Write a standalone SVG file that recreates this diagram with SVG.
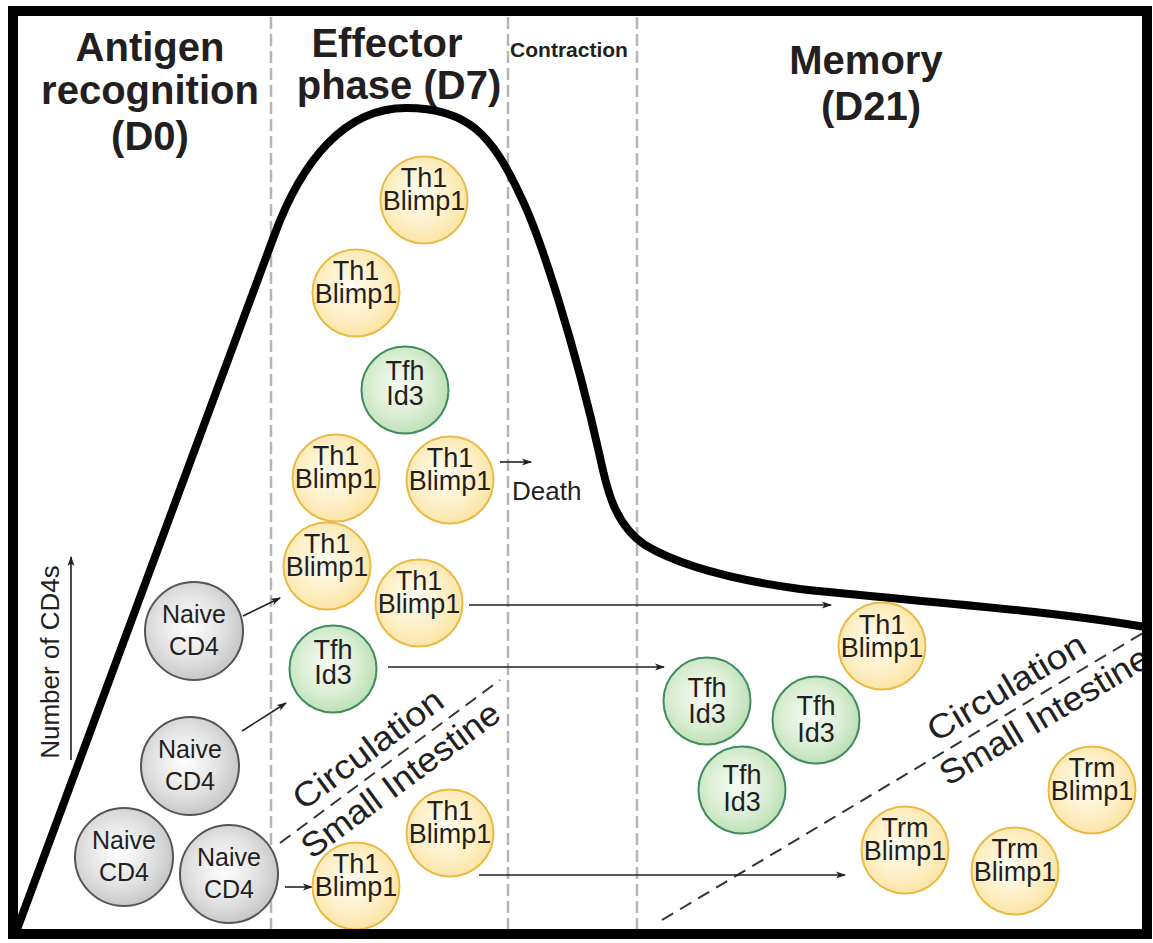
<svg xmlns="http://www.w3.org/2000/svg" width="1153" height="943" viewBox="0 0 1153 943">
<defs>
<radialGradient id="gy" cx="0.45" cy="0.45" r="0.6">
<stop offset="0" stop-color="#fffdf4"/><stop offset="0.55" stop-color="#fdf0c8"/><stop offset="1" stop-color="#fbe3a0"/>
</radialGradient>
<radialGradient id="gg" cx="0.45" cy="0.45" r="0.6">
<stop offset="0" stop-color="#f6fbf4"/><stop offset="0.55" stop-color="#dcefd6"/><stop offset="1" stop-color="#b9ddb1"/>
</radialGradient>
<radialGradient id="gn" cx="0.45" cy="0.45" r="0.6">
<stop offset="0" stop-color="#ffffff"/><stop offset="0.55" stop-color="#e3e3e3"/><stop offset="1" stop-color="#c2c2c2"/>
</radialGradient>
<marker id="ah" markerUnits="userSpaceOnUse" markerWidth="10" markerHeight="8" refX="9" refY="4" orient="auto">
<path d="M0,0.5 L10,4 L0,7.5 L2.5,4 z" fill="#231f20"/>
</marker>
<style>
text{font-family:"Liberation Sans",Arial,Helvetica,sans-serif;fill:#231f20}
.h{font-size:40px;font-weight:bold;text-anchor:middle}
.hs{font-size:21px;font-weight:bold;text-anchor:middle}
.c{font-size:27px;text-anchor:middle}
.nv{font-size:25px;text-anchor:middle}
.rot{font-size:34px;text-anchor:middle}
.y{fill:url(#gy);stroke:#ebba45;stroke-width:2}
.g{fill:url(#gg);stroke:#3f8c5c;stroke-width:2}
.n{fill:url(#gn);stroke:#555;stroke-width:2}
.vd{stroke:#b5b5b5;stroke-width:2.5;stroke-dasharray:12 5;fill:none}
.dd{stroke:#333;stroke-width:2;stroke-dasharray:13 8;fill:none}
.ar{stroke:#231f20;stroke-width:1.6;fill:none;marker-end:url(#ah)}
</style>
</defs>
<rect x="0" y="0" width="1153" height="943" fill="#fff"/>

<g id="phase-lines">
<line class="vd" x1="271" y1="17" x2="271" y2="930"/>
<line class="vd" x1="508" y1="17" x2="508" y2="930"/>
<line class="vd" x1="637" y1="17" x2="637" y2="930"/>
</g>

<g id="headers">
<text class="h" x="150" y="61">Antigen</text>
<text class="h" x="150" y="104">recognition</text>
<text class="h" x="150" y="150">(D0)</text>
<text class="h" x="387" y="57">Effector</text>
<text class="h" x="399" y="99">phase (D7)</text>
<text class="hs" x="569" y="57">Contraction</text>
<text class="h" x="866" y="74">Memory</text>
<text class="h" x="871" y="120">(D21)</text>
</g>

<g id="curve">
<path d="M16 932 L274 236 C302 160 345 108 406 108 C468 108 492 135 520 195 C540 235 575 345 600 457 C607 490 615 525 645 545 C675 563 720 578 800 589 C900 600 1050 610 1150 628" fill="none" stroke="#000" stroke-width="8" stroke-linejoin="round"/>
</g>

<g id="yaxis">
<text font-size="26" text-anchor="middle" transform="translate(59,662) rotate(-90)">Number of CD4s</text>
<line class="ar" x1="71" y1="760" x2="71" y2="557"/>
</g>

<g id="boundary-effector">
<line class="dd" x1="280" y1="843" x2="500" y2="680"/>
<g transform="translate(390,762) rotate(-36.5)">
<text class="rot" x="-10" y="-12" textLength="178" lengthAdjust="spacingAndGlyphs">Circulation</text>
<text class="rot" x="-2" y="32" textLength="238" lengthAdjust="spacingAndGlyphs">Small Intestine</text>
</g>
</g>

<g id="boundary-memory">
<line class="dd" x1="662" y1="920" x2="1143" y2="633"/>
<g transform="translate(902.5,776.5) rotate(-30.8)">
<text class="rot" x="135" y="-12" textLength="178" lengthAdjust="spacingAndGlyphs">Circulation</text>
<text class="rot" x="153" y="32" textLength="238" lengthAdjust="spacingAndGlyphs">Small Intestine</text>
</g>
</g>

<g id="connectors">
<line class="ar" x1="243" y1="616" x2="280" y2="598"/>
<line class="ar" x1="242" y1="731" x2="286" y2="703"/>
<line class="ar" x1="285" y1="887" x2="312" y2="887"/>
<line class="ar" x1="500" y1="462" x2="531" y2="462"/>
<line class="ar" x1="469" y1="605" x2="831" y2="605"/>
<line class="ar" x1="388" y1="667" x2="664" y2="667"/>
<line class="ar" x1="479" y1="875" x2="845" y2="875"/>
</g>
<text id="death" x="512" y="500" font-size="26">Death</text>

<g id="th1-e1"><circle class="y" cx="424" cy="200" r="43.5"/><text class="c" x="424" y="187">Th1</text><text class="c" x="424" y="210">Blimp1</text></g>
<g id="th1-e2"><circle class="y" cx="356" cy="293" r="43.5"/><text class="c" x="356" y="280">Th1</text><text class="c" x="356" y="303">Blimp1</text></g>
<g id="tfh-e1"><circle class="g" cx="405" cy="390" r="43.5"/><text class="c" x="405" y="380">Tfh</text><text class="c" x="405" y="405">Id3</text></g>
<g id="th1-e3"><circle class="y" cx="336" cy="478" r="43.5"/><text class="c" x="336" y="465">Th1</text><text class="c" x="336" y="488">Blimp1</text></g>
<g id="th1-e4"><circle class="y" cx="450" cy="480" r="43.5"/><text class="c" x="450" y="467">Th1</text><text class="c" x="450" y="490">Blimp1</text></g>
<g id="th1-e5"><circle class="y" cx="327" cy="566" r="43.5"/><text class="c" x="327" y="553">Th1</text><text class="c" x="327" y="576">Blimp1</text></g>
<g id="th1-e6"><circle class="y" cx="419" cy="603" r="43.5"/><text class="c" x="419" y="590">Th1</text><text class="c" x="419" y="613">Blimp1</text></g>
<g id="tfh-e2"><circle class="g" cx="333" cy="669" r="43.5"/><text class="c" x="333" y="659">Tfh</text><text class="c" x="333" y="684">Id3</text></g>
<g id="th1-e7"><circle class="y" cx="450" cy="833" r="43.5"/><text class="c" x="450" y="820">Th1</text><text class="c" x="450" y="843">Blimp1</text></g>
<g id="th1-e8"><circle class="y" cx="356" cy="886" r="43.5"/><text class="c" x="356" y="873">Th1</text><text class="c" x="356" y="896">Blimp1</text></g>

<g id="naive-1"><circle class="n" cx="194" cy="631" r="49"/><text class="nv" x="194" y="623">Naive</text><text class="nv" x="194" y="655">CD4</text></g>
<g id="naive-2"><circle class="n" cx="190" cy="766" r="49"/><text class="nv" x="190" y="758">Naive</text><text class="nv" x="190" y="790">CD4</text></g>
<g id="naive-3"><circle class="n" cx="124" cy="857" r="49"/><text class="nv" x="124" y="849">Naive</text><text class="nv" x="124" y="881">CD4</text></g>
<g id="naive-4"><circle class="n" cx="229" cy="874" r="49"/><text class="nv" x="229" y="866">Naive</text><text class="nv" x="229" y="898">CD4</text></g>

<g id="th1-m"><circle class="y" cx="882" cy="646" r="43.5"/><text class="c" x="882" y="634">Th1</text><text class="c" x="882" y="657">Blimp1</text></g>
<g id="tfh-m1"><circle class="g" cx="707" cy="701" r="43.5"/><text class="c" x="707" y="697">Tfh</text><text class="c" x="707" y="723">Id3</text></g>
<g id="tfh-m2"><circle class="g" cx="816" cy="720" r="43.5"/><text class="c" x="816" y="715">Tfh</text><text class="c" x="816" y="742">Id3</text></g>
<g id="tfh-m3"><circle class="g" cx="742" cy="790" r="43.5"/><text class="c" x="742" y="784">Tfh</text><text class="c" x="742" y="811">Id3</text></g>
<g id="trm-1"><circle class="y" cx="905" cy="850" r="43.5"/><text class="c" x="905" y="837">Trm</text><text class="c" x="905" y="860">Blimp1</text></g>
<g id="trm-2"><circle class="y" cx="1015" cy="871" r="43.5"/><text class="c" x="1015" y="858">Trm</text><text class="c" x="1015" y="881">Blimp1</text></g>
<g id="trm-3"><circle class="y" cx="1092" cy="790" r="43.5"/><text class="c" x="1092" y="777">Trm</text><text class="c" x="1092" y="800">Blimp1</text></g>

<rect id="frame" x="13" y="11" width="1134" height="923" fill="none" stroke="#000" stroke-width="10"/>
</svg>
